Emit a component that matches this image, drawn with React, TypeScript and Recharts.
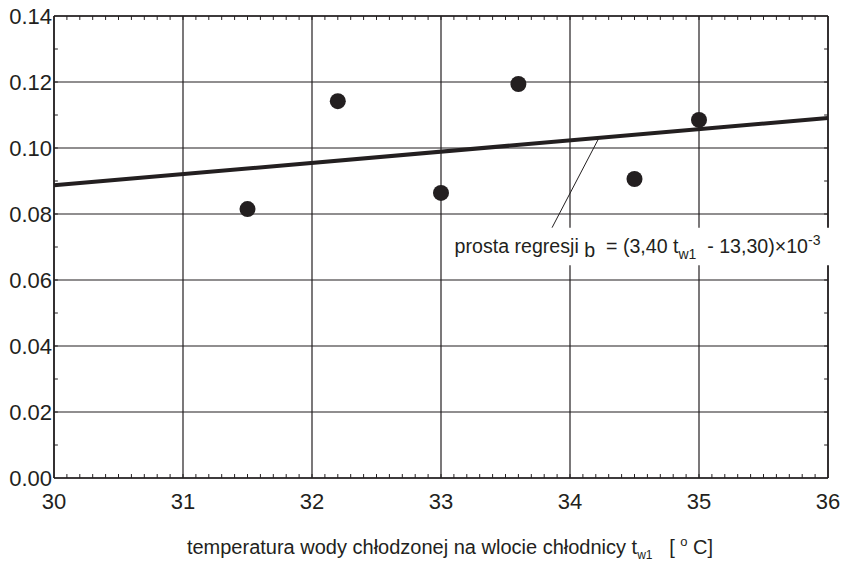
import {
  ScatterChart,
  Scatter,
  XAxis,
  YAxis,
  CartesianGrid,
  ReferenceLine,
  ReferenceArea,
} from "recharts";

// measured points: inlet water temperature vs b
const tempValues = [31.5, 32.2, 33.0, 33.6, 34.5, 35.0];
const bValues = [0.0815, 0.1142, 0.0864, 0.1194, 0.0906, 0.1085];

// regression line end points, b = (3,40 t - 13,30)e-3
const regressionT = [30, 36];
const regressionB = [0.0887, 0.1091];

// leader line from the regression line to the label
const leaderT = [34.225, 33.86];
const leaderB = [0.1031, 0.0758];

// label box extent
const boxT = [33.09, 36.02];
const boxB = [0.0645, 0.0758];

const xTicks = [30, 31, 32, 33, 34, 35, 36];
const yTicks = [0, 0.02, 0.04, 0.06, 0.08, 0.1, 0.12, 0.14];
const xMinorTicks = Array.from({ length: 59 }, (_, i) => 30.1 + i / 10);
const yMinorTicks = Array.from({ length: 13 }, (_, i) => 0.01 + i / 100);

const ink = "#231f20";
const font = "'Liberation Sans', Arial, sans-serif";
const X_MIN = 30;
const X_MAX = 36;
const Y_MIN = 0;
const Y_MAX = 0.14;
// inward tick length in axis units (about 4px)
const TICK_X = 0.03;
const TICK_Y = 0.0012;

const points = tempValues.map((t, i) => ({ t, b: bValues[i] }));

const Dot = (props: any) => (
  <circle cx={props.cx} cy={props.cy} r={8} fill={ink} />
);

const BoxLabel = (props: any) => {
  const { x, y } = props.viewBox;
  return (
    <text
      x={x + 2}
      y={y + 25}
      fill={ink}
      fontSize={19.6}
      fontFamily={font}
      style={{ whiteSpace: "pre" }}
    >
      <tspan>prosta regresji </tspan>
      <tspan dy={4}>b</tspan>
      <tspan dy={-4}>{"  = (3,40 t"}</tspan>
      <tspan dy={6} fontSize={14}>w1</tspan>
      <tspan dy={-6}>{"  - 13,30)×10"}</tspan>
      <tspan dy={-8} fontSize={14}>-3</tspan>
    </text>
  );
};

const AxisTitle = (props: any) => {
  const { x, y, width } = props.viewBox;
  return (
    <text
      x={x + width / 2 + 9}
      y={y + 76}
      fill={ink}
      fontSize={20}
      fontFamily={font}
      textAnchor="middle"
      style={{ whiteSpace: "pre" }}
    >
      <tspan>temperatura wody chłodzonej na wlocie chłodnicy t</tspan>
      <tspan dy={5} fontSize={12}>w1</tspan>
      <tspan dy={-5}>{"   [ "}</tspan>
      <tspan dy={-8} fontSize={13}>o</tspan>
      <tspan dy={8}>{" C]"}</tspan>
    </text>
  );
};

const edge = { stroke: ink, strokeWidth: 1.6 };

const App = () => {
  return (
    <div style={{ position: "absolute", left: 0, top: 0 }}>
      <ScatterChart
        width={851}
        height={562}
        margin={{ top: 16, right: 23, bottom: 0, left: 0 }}
        style={{ fontFamily: font }}
      >
        <CartesianGrid stroke={ink} strokeWidth={1.2} />
        <XAxis
          dataKey="t"
          type="number"
          domain={[X_MIN, X_MAX]}
          ticks={xTicks}
          interval={0}
          height={84}
          tickLine={false}
          tickSize={0}
          tickMargin={15}
          axisLine={edge}
          tick={{ fill: ink, fontSize: 22 }}
          label={{ content: AxisTitle }}
        />
        <YAxis
          dataKey="b"
          type="number"
          domain={[Y_MIN, Y_MAX]}
          ticks={yTicks}
          interval={0}
          width={54}
          tickLine={false}
          tickSize={0}
          tickMargin={2}
          axisLine={edge}
          tick={{ fill: ink, fontSize: 22 }}
          tickFormatter={(v: number) => v.toFixed(2)}
        />
        {/* frame top and right */}
        <ReferenceLine y={Y_MAX} stroke={ink} strokeWidth={1.6} />
        <ReferenceLine x={X_MAX} stroke={ink} strokeWidth={1.6} />
        {/* inward minor ticks */}
        {xMinorTicks.map((t) => (
          <ReferenceLine
            key={`xb${t}`}
            segment={[
              { x: t, y: Y_MIN },
              { x: t, y: Y_MIN + TICK_Y },
            ]}
            stroke={ink}
            strokeWidth={1}
          />
        ))}
        {xMinorTicks.map((t) => (
          <ReferenceLine
            key={`xt${t}`}
            segment={[
              { x: t, y: Y_MAX },
              { x: t, y: Y_MAX - TICK_Y },
            ]}
            stroke={ink}
            strokeWidth={1}
          />
        ))}
        {yMinorTicks.map((v) => (
          <ReferenceLine
            key={`yl${v}`}
            segment={[
              { x: X_MIN, y: v },
              { x: X_MIN + TICK_X, y: v },
            ]}
            stroke={ink}
            strokeWidth={1}
          />
        ))}
        {yMinorTicks.map((v) => (
          <ReferenceLine
            key={`yr${v}`}
            segment={[
              { x: X_MAX, y: v },
              { x: X_MAX - TICK_X, y: v },
            ]}
            stroke={ink}
            strokeWidth={1}
          />
        ))}
        <ReferenceLine
          segment={[
            { x: regressionT[0], y: regressionB[0] },
            { x: regressionT[1], y: regressionB[1] },
          ]}
          stroke={ink}
          strokeWidth={4}
          ifOverflow="visible"
        />
        <ReferenceLine
          segment={[
            { x: leaderT[0], y: leaderB[0] },
            { x: leaderT[1], y: leaderB[1] },
          ]}
          stroke={ink}
          strokeWidth={1}
          ifOverflow="visible"
        />
        <Scatter
          data={points}
          shape={Dot}
          isAnimationActive={false}
        />
        <ReferenceArea
          x1={boxT[0]}
          x2={boxT[1]}
          y1={boxB[0]}
          y2={boxB[1]}
          fill="#ffffff"
          fillOpacity={1}
          stroke="none"
          ifOverflow="visible"
          zIndex={550}
          label={{ content: BoxLabel }}
        />
      </ScatterChart>
    </div>
  );
};

export default App;
